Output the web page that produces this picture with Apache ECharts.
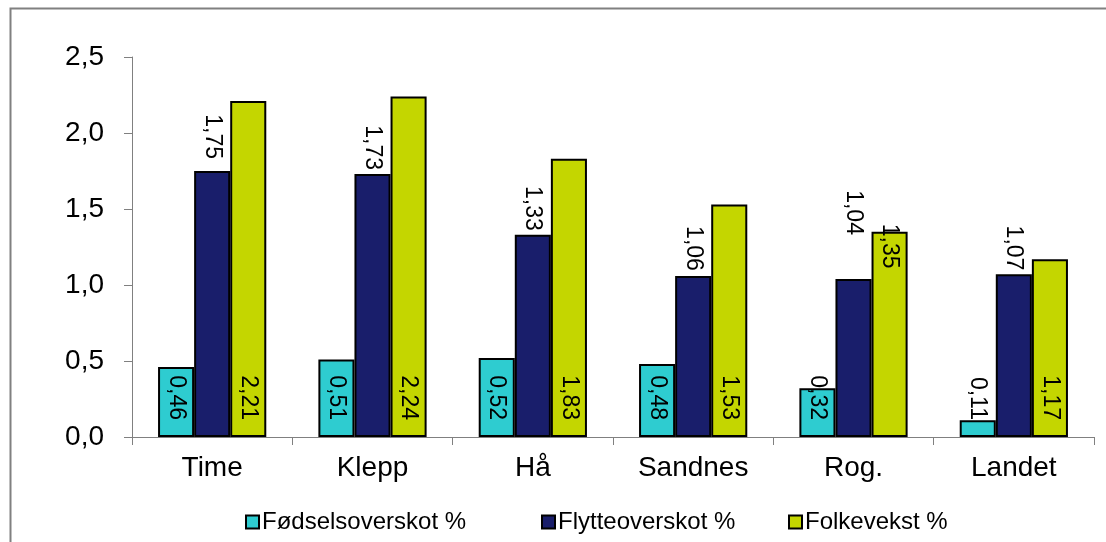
<!DOCTYPE html>
<html>
<head>
<meta charset="utf-8">
<script src="https://cdn.jsdelivr.net/npm/echarts@6/dist/echarts.min.js"></script>
<style>
html,body{margin:0;padding:0;background:#fff;}
#c{width:1106px;height:542px;}
</style>
</head>
<body>
<div id="c"></div>
<script>
const categories = ['Time', 'Klepp', 'Hå', 'Sandnes', 'Rog.', 'Landet'];
const seriesNames = ['Fødselsoverskot %', 'Flytteoverskot %', 'Folkevekst %'];
const fodselsoverskot = [0.46, 0.51, 0.52, 0.48, 0.32, 0.11];
const flytteoverskot = [1.75, 1.73, 1.33, 1.06, 1.04, 1.07];
const folkevekst = [2.21, 2.24, 1.83, 1.53, 1.35, 1.17];
const yTicks = [0, 0.5, 1.0, 1.5, 2.0, 2.5];

// label placement styles (not data)
const fodselPlace = ['base', 'base', 'base', 'base', 'base', 'base'];
const flyttePlace = ['above', 'above', 'above', 'above', 'above', 'above'];
const flytteDist = [12, 4, 4, 5, 44, 4];
const folkePlace = ['base', 'base', 'base', 'base', 'topin', 'base'];

const colors = ['#2ECCD0', '#191E6B', '#C4D600'];
const FONT = 'Liberation Sans, Arial, sans-serif';

function fmt(v) { return v.toFixed(2).replace('.', ','); }

function labelFor(place, dist) {
  const base = { show: true, rotate: -90, verticalAlign: 'middle', fontSize: 23, fontFamily: FONT, color: '#000', formatter: p => fmt(p.value) };
  if (place === 'base') return Object.assign(base, { position: 'insideBottom', distance: 17, align: 'right' });
  if (place === 'above') return Object.assign(base, { position: 'top', distance: dist, align: 'right' });
  return Object.assign(base, { position: 'top', distance: 8, align: 'left' });
}

function buildData(values, places, dists) {
  return values.map((v, i) => ({ value: v, label: labelFor(places[i], dists ? dists[i] : 0) }));
}

const chart = echarts.init(document.getElementById('c'), null, { renderer: 'canvas' });

const seriesValues = [fodselsoverskot, flytteoverskot, folkevekst];
const seriesPlaces = [fodselPlace, flyttePlace, folkePlace];
const seriesDists = [null, flytteDist, null];

const legendLefts = [240, 536, 783];

chart.setOption({
  animation: false,
  backgroundColor: '#fff',
  textStyle: { fontFamily: FONT },
  graphic: [{
    type: 'rect', left: 8, top: 6, z: -1,
    shape: { width: 1120, height: 560 },
    style: { fill: 'none', stroke: '#808080', lineWidth: 2 }
  }],
  legend: seriesNames.map((n, i) => ({
    data: [n], left: legendLefts[i], top: 505, itemWidth: 13, itemHeight: 13, itemGap: 5,
    icon: 'rect', textStyle: { fontSize: 24, fontFamily: FONT, color: '#000', padding: [0, 0, 0, -2] },
    selectedMode: false
  })),
  grid: { left: 132, right: 12, top: 57, bottom: 105, containLabel: false },
  xAxis: {
    type: 'category', data: categories,
    axisLine: { lineStyle: { color: '#808080', width: 1 } },
    axisTick: { show: true, length: 8, alignWithLabel: false, lineStyle: { color: '#808080' } },
    axisLabel: { fontSize: 28, color: '#000', fontFamily: FONT, margin: 17 },
    splitLine: { show: false }
  },
  yAxis: {
    type: 'value', min: yTicks[0], max: yTicks[yTicks.length - 1], interval: 0.5,
    axisLine: { show: true, lineStyle: { color: '#808080', width: 1 } },
    axisTick: { show: true, length: 8, lineStyle: { color: '#808080' } },
    axisLabel: { fontSize: 28, color: '#000', fontFamily: FONT, margin: 28, formatter: v => v.toFixed(1).replace('.', ',') },
    splitLine: { show: false }
  },
  series: seriesNames.map((n, i) => ({
    name: n, type: 'bar',
    barGap: '0%', barCategoryGap: '32.5%',
    itemStyle: { color: colors[i], borderColor: '#000', borderWidth: 2 },
    data: buildData(seriesValues[i], seriesPlaces[i], seriesDists[i])
  }))
});
</script>
</body>
</html>
